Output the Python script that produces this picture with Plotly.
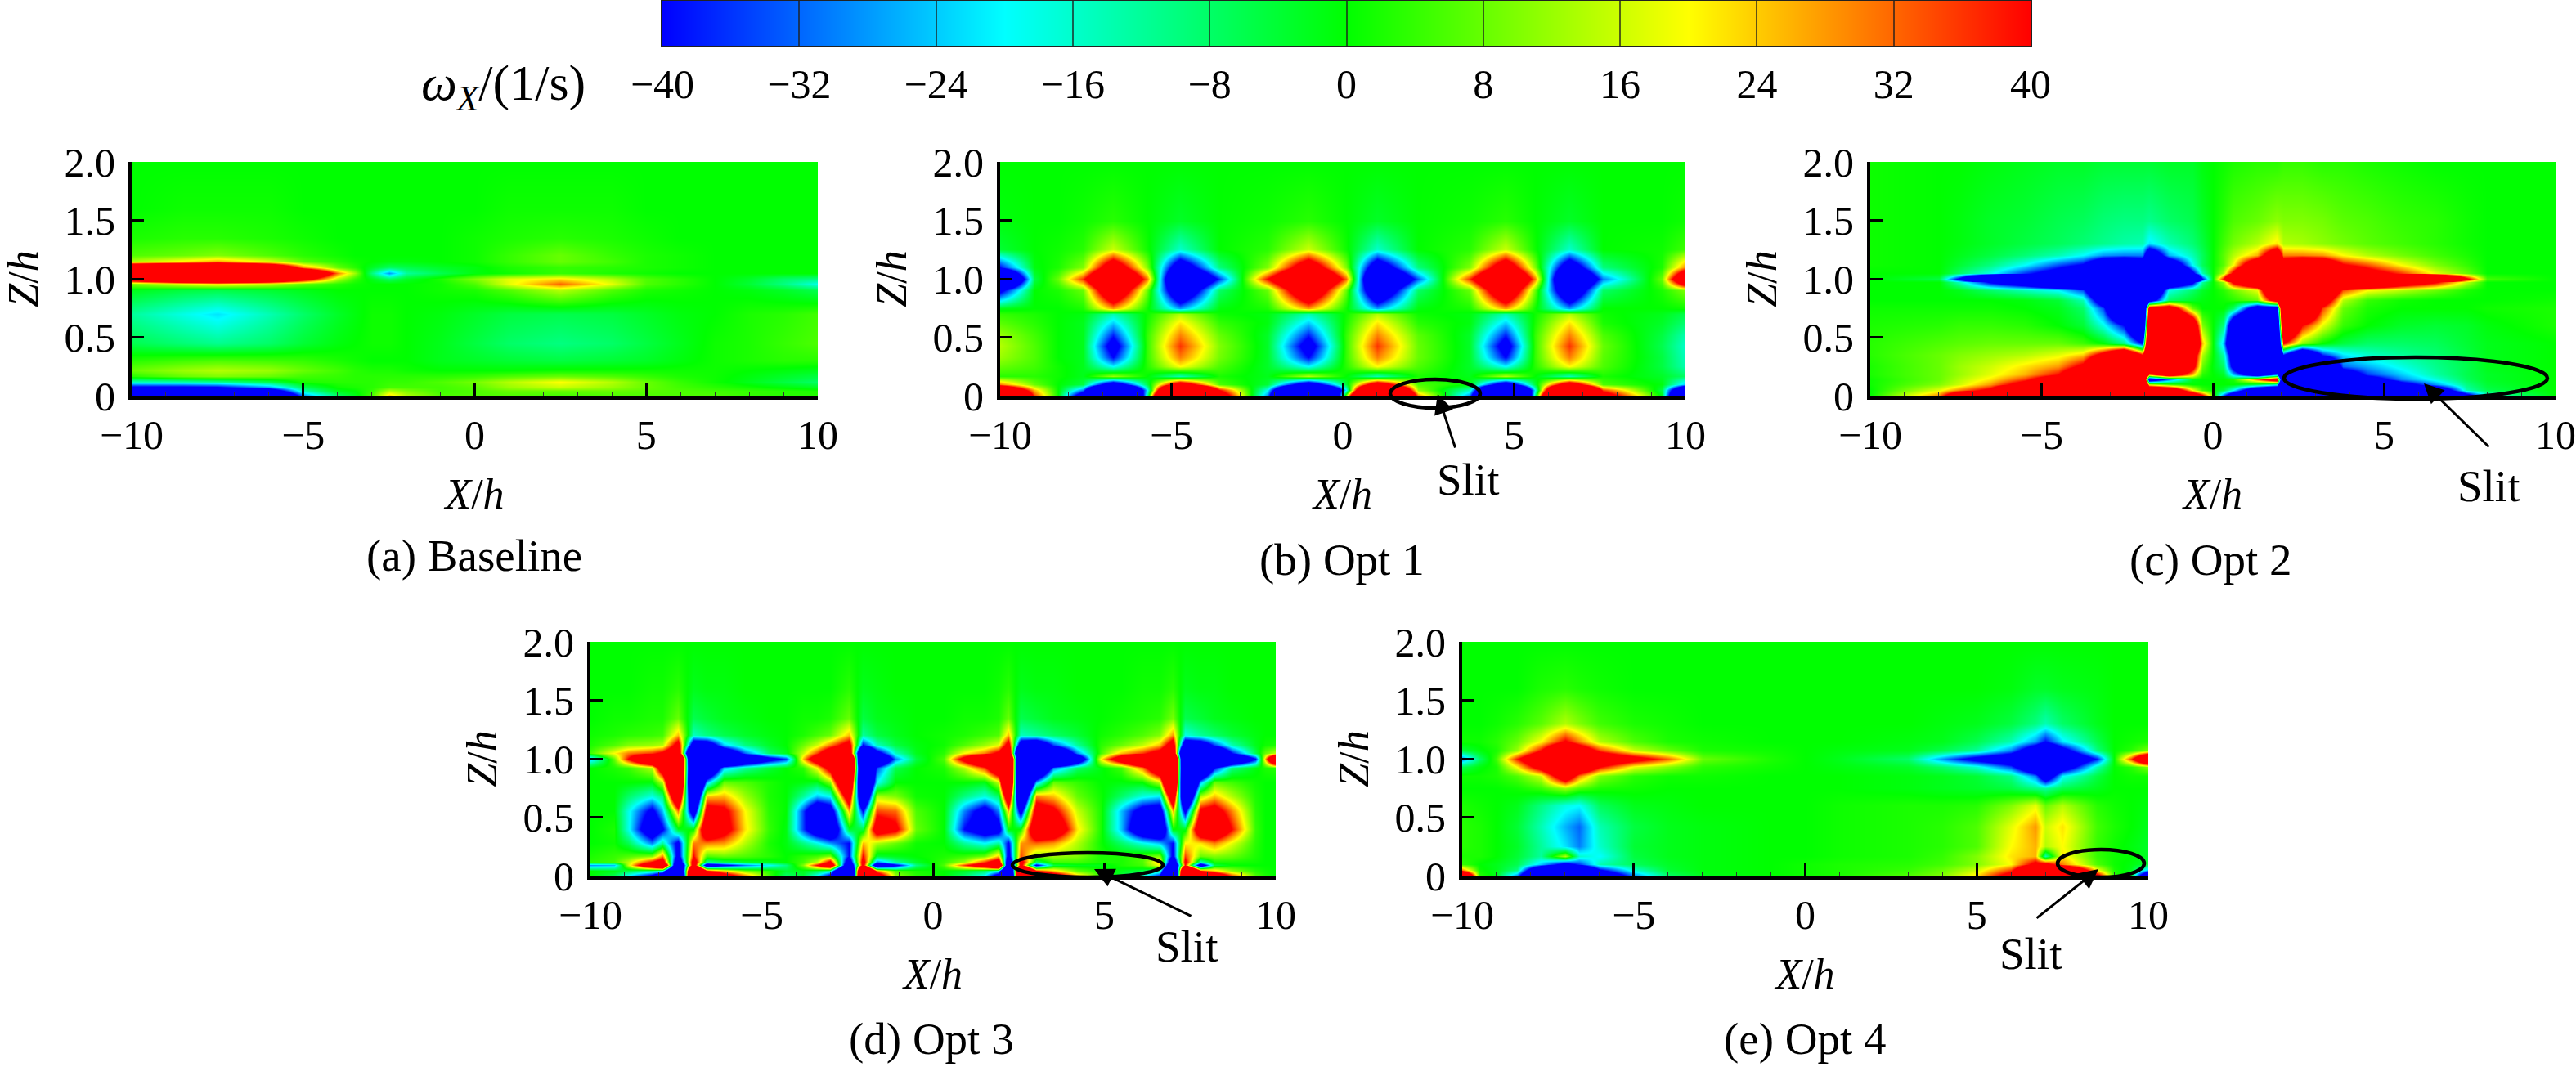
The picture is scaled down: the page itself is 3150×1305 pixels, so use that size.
"""Spanwise vorticity contours, baseline and four slit layouts."""
import plotly.graph_objects as go

W, H = 3150, 1305
FONT = "Liberation Serif"
FS = 50

tick_vals = [-40, -32, -24, -16, -8, 0, 8, 16, 24, 32, 40]

# (a) Baseline
x_a = [-10, -8.5, -7.5, -6, -5, -4, -3.5, -3, -2.5, -2, -1, 0, 1, 2.5, 4, 5, 6, 7, 8, 9, 10]
z_a = [0, .04, .08, .12, .17, .22, .3, .45, .7, .9, .96, 1.0, 1.05, 1.1, 1.15, 1.2, 1.35, 1.6, 2.0]
w_a = [
    [-120, -120, -120, -100, -30, -8, -2, 6, 24, 14, 6, 6, 6, 5, 6, 6, 6, 6, 4, 3, 3],
    [-120, -120, -100, -60, -14, -2, 0, 4, 14, 10, 5, 6, 8, 8, 8, 7, 6, 5, 4, 3, 2],
    [-42, -42, -40, -26, -6, 1, 2, 3, 5, 5, 5, 7, 12, 16, 12, 8, 5, 3, 1, -1, -3],
    [-15, -14, -12, -6, 2, 3, 3, 3, 4, 4, 6, 9, 14, 20, 14, 8, 4, 1, -2, -5, -8],
    [3, 8, 10, 8, 5, 4, 3, 3, 3, 3, 3, 4, 6, 8, 6, 4, 2, 1, -1, -3, -5],
    [8, 12, 14, 12, 8, 5, 3, 2, 2, 1, 0, 0, 0, 1, 1, 1, 1, 1, 0, -1, -2],
    [3, 5, 6, 5, 4, 2, 1, 0, 0, 0, -2, -3, -4, -5, -4, -3, -1, 1, 2, 3, 3],
    [-6, -9, -11, -8, -4, -1, 0, 1, 1, 0, -2, -5, -8, -10, -8, -5, -2, 1, 2, 4, 6],
    [-12, -18, -22, -14, -8, -3, -1, 1, 1, 0, -1, -3, -5, -6, -5, -3, -1, 0, 2, 3, 5],
    [-2, -5, -6, -4, -2, 0, 0, 0, 0, 0, 1, 2, 6, 14, 6, 2, 1, 0, -1, -3, -6],
    [10, 18, 22, 16, 8, 3, 1, 0, 0, 0, 1, 6, 18, 32, 18, 6, 3, 0, -4, -10, -18],
    [60, 90, 100, 80, 50, 14, 4, -2, -8, -3, 2, 10, 18, 22, 14, 6, 3, 0, -3, -8, -10],
    [150, 150, 150, 140, 90, 30, 12, -10, -28, -12, -6, -1, 1, 4, 2, 1, 0, 0, 0, 0, 0],
    [90, 100, 110, 80, 30, 8, 3, -3, -8, -6, -3, -1, 2, 4, 3, 2, 1, 0, 0, 0, 0],
    [14, 22, 28, 18, 7, 3, 1, 0, -1, -1, 0, 1, 4, 8, 5, 2, 1, 0, 0, 0, 0],
    [6, 8, 10, 6, 3, 1, 0, 0, 0, 0, 0, 1, 4, 8, 4, 2, 1, 0, 0, 0, 0],
    [2, 3, 3, 2, 1, 0, 0, 0, 0, 0, 0, 1, 2, 3, 2, 1, 0, 0, 0, 0, 0],
    [0, 1, 1, 1, 0, 0, 0, 0, 0, 0, 0, 0, 1, 1, 1, 0, 0, 0, 0, 0, 0],
    [0, 0, 0, 0, 0, 0, 0, 0, 0, 0, 0, 0, 0, 0, 0, 0, 0, 0, 0, 0, 0],
]

# (b) Opt 1
x_b = [-10, -9, -8.3, -7.6, -6.7, -5.7, -4.75, -3.6, -2.2, -1.0, 0.1, 1.0, 2.2, 3.7, 4.75, 5.6, 6.6, 7.6, 9.3, 10]
z_b = [0, .05, .1, .17, .25, .33, .43, .52, .62, .7, .75, .9, 1.0, 1.1, 1.25, 1.5, 2.0]
w_b = [
    [160, 35, 0, -60, -250, -10, 250, 60, -30, -250, 10, 250, 30, -30, -250, -10, 250, 55, -2, -130],
    [90, 25, 0, -30, -170, -20, 170, 40, -20, -170, -20, 170, 12, -15, -170, -20, 170, 35, -5, -90],
    [30, 8, 0, -5, -60, -5, 60, 6, -4, -60, -4, 60, 6, 0, -60, -4, 60, 6, -1, -25],
    [3, 3, 1, -2, 12, 0, -14, 2, -2, 14, 0, -14, 2, -2, 14, 0, -14, 2, -3, -8],
    [8, 5, 1, -2, -20, 3, 20, 6, -3, -20, 3, 20, 6, -3, -20, 3, 20, 6, -5, -14],
    [12, 6, 0, -2, -40, 4, 30, 9, -3, -40, 4, 30, 8, -3, -40, 4, 30, 7, -5, -15],
    [14, 6, 0, -2, -50, 4, 36, 10, -3, -50, 4, 36, 8, -3, -50, 4, 36, 8, -6, -16],
    [12, 5, 0, -2, -38, 4, 30, 8, -3, -38, 4, 30, 7, -3, -38, 4, 30, 6, -5, -14],
    [7, 3, 0, -2, -24, 2, 22, 4, -1, -24, 2, 22, 3, -1, -24, 2, 22, 2, -3, -9],
    [4, 2, 0, -1, -14, 1, 14, 1, -1, -14, 1, 14, 1, -1, -14, 1, 14, 1, -2, -6],
    [-2, 0, 0, 2, 28, 1, -28, -1, 2, 28, 1, -28, -1, 2, 28, 1, -28, 0, 0, 1],
    [-45, 0, 2, 8, 70, 8, -70, -8, 8, 70, 8, -70, -8, 8, 70, 8, -70, -8, 2, 10],
    [-120, -5, 8, 36, 100, 30, -100, -36, 40, 100, 32, -100, -33, 36, 100, 30, -100, -30, 8, 80],
    [-40, -1, 2, 10, 60, 10, -60, -10, 10, 60, 10, -60, -10, 10, 60, 10, -60, -10, 2, 30],
    [-4, 0, 1, 3, 16, 1, -16, 0, 3, 16, 1, -16, 0, 3, 16, 1, -16, 0, 1, 5],
    [-1, 0, 0, 1, 3, 0, -3, 0, 1, 3, 0, -3, 0, 1, 3, 0, -3, 0, 0, 1],
    [0, 0, 0, 0, 0, 0, 0, 0, 0, 0, 0, 0, 0, 0, 0, 0, 0, 0, 0, 0],
]

# (c) Opt 2
x_c = [-10, -8, -7.4, -6.5, -5.5, -4.5, -3.8, -3.2, -2.6, -2.05, -1.85, -1.3, -0.6, -0.3, 0,
       0.3, 0.6, 1.3, 1.85, 2.05, 2.6, 3.2, 3.8, 4.5, 5.5, 6.5, 7.4, 8, 10]
z_c = [0, .05, .1, .14, .18, .25, .35, .45, .6, .75, .82, .9, .97, 1.0, 1.05, 1.12, 1.2, 1.3, 1.5, 2.0]
w_c = [
    [0, 30, 70, 110, 120, 120, 120, 120, 120, 120, 120, 100, 70, 45, 8, -35, -70, -100, -120, -120, -120, -120, -120, -120, -120, -110, -55, -16, 0],
    [0, 18, 30, 45, 110, 120, 120, 120, 120, 120, 90, 70, 20, 5, 0, -5, -20, -70, -90, -120, -120, -120, -120, -120, -110, -70, -14, -6, 0],
    [1, 10, 16, 28, 50, 100, 120, 120, 120, 120, 15, 5, 0, 0, 0, 0, 0, -5, -15, -120, -120, -120, -120, -110, -50, -28, -10, -4, 0],
    [1, 8, 14, 22, 36, 60, 110, 120, 120, 120, -60, -30, -2, 0, 0, 0, 2, 30, 60, -120, -120, -120, -110, -55, -30, -18, -7, -3, 0],
    [2, 8, 12, 18, 26, 40, 70, 120, 120, 120, 30, 60, 25, 3, 0, -3, -25, -60, -30, -120, -120, -120, -60, -36, -24, -13, -6, -3, 0],
    [2, 8, 12, 16, 22, 28, 45, 100, 120, 120, 120, 120, 50, 8, -1, -8, -50, -120, -120, -120, -120, -110, -32, -26, -18, -11, -6, -2, 0],
    [3, 8, 10, 12, 14, 18, 24, 50, 90, 40, 120, 120, 60, 14, 0, -14, -60, -120, -120, -40, -90, -38, -22, -16, -12, -9, -5, -2, 0],
    [3, 6, 7, 8, 8, 8, 5, 0, -10, -40, 120, 120, 90, 25, 0, -25, -90, -120, -120, 40, 10, 0, -5, -8, -8, -7, -4, -2, 0],
    [2, 3, 4, 4, 3, 0, -4, -18, -40, -100, 100, 120, 70, 10, 0, -10, -70, -120, -100, 100, 40, 18, 4, 0, -3, -4, -3, -1, 2],
    [1, 1, 1, 1, 0, -2, -8, -35, -100, -120, 60, 60, 8, 0, 0, 0, -8, -60, -60, 120, 100, 35, 8, 2, 0, 0, 0, 1, 2],
    [0, 0, 0, 0, -1, -4, -14, -60, -130, -150, -55, -8, -3, -1, 0, 1, 3, 8, 55, 150, 130, 60, 14, 4, 1, 0, 0, 0, 1],
    [0, 0, -2, -8, -14, -20, -34, -90, -150, -150, -100, -18, -8, -3, 0, 3, 8, 18, 100, 150, 150, 90, 34, 20, 14, 8, 2, 0, 0],
    [0, 0, -15, -42, -60, -90, -120, -150, -150, -150, -150, -80, -45, -12, 0, 12, 45, 80, 150, 150, 150, 150, 120, 90, 60, 42, 15, 0, 0],
    [0, -5, -45, -130, -150, -150, -150, -150, -150, -150, -150, -150, -120, -40, 0, 40, 120, 150, 150, 150, 150, 150, 150, 150, 150, 130, 45, 5, 0],
    [0, 0, -8, -18, -36, -50, -70, -120, -120, -120, -120, -120, -45, -14, 0, 14, 45, 120, 120, 120, 120, 120, 70, 50, 36, 18, 8, 0, 0],
    [1, 0, -4, -10, -20, -34, -42, -70, -80, -60, -120, -70, -20, -7, 0, 7, 20, 70, 120, 60, 80, 70, 42, 34, 20, 10, 4, 0, 0],
    [1, 0, -2, -5, -9, -14, -20, -28, -30, -30, -70, -26, -14, -7, 0, 7, 14, 26, 70, 30, 30, 28, 20, 14, 9, 5, 2, 0, 0],
    [1, 0, -1, -3, -5, -7, -9, -11, -13, -14, -22, -14, -9, -5, 0, 5, 9, 14, 22, 14, 13, 11, 9, 7, 5, 3, 1, 0, 0],
    [1, 0, -1, -3, -4, -6, -7, -9, -10, -10, -11, -8, -6, -3, 0, 3, 6, 8, 11, 10, 10, 9, 7, 6, 4, 3, 1, 0, 0],
    [1, 0, 0, -1, -2, -3, -3, -4, -4, -4, -4, -3, -3, -1, 0, 1, 2, 3, 3, 4, 4, 3, 3, 2, 1, 0, 0, 0, 0],
]

# (d) Opt 3
x_d = [-10, -9.3, -8.9, -8.2, -7.9, -7.45, -7.0, -6.6, -6.1, -5.5, -4.8, -4.3,
       -3.8, -3.4, -3.0, -2.45, -2.05, -1.65, -1.1, -0.5,
       0.3, 0.9, 1.5, 1.9, 2.2, 2.55, 3.0, 3.5, 4.2, 4.9,
       5.5, 6.1, 6.6, 7.0, 7.35, 7.8, 8.2, 8.7, 9.4, 9.7, 10]
z_d = [0, .04, .09, .12, .17, .28, .4, .55, .68, .8, .92, 1.0, 1.05, 1.12, 1.2, 1.35, 1.6, 2.0]
w_d = [
    [0, -6, -20, -45, -70, -200, 200, 90, 55, 30, 5, -8,
     -4, -20, -45, -200, 200, 60, 12, 3,
     0, -8, -20, -55, -200, 200, 100, 60, 25, 3,
     -4, -15, -40, -200, 200, 110, 70, 35, 6, 2, 0],
    [0, -2, -6, -12, -20, -150, 150, 40, 25, 10, 3, -4,
     -2, -6, -14, -150, 150, 30, 6, 2,
     0, -3, -8, -20, -150, 150, 40, 25, 8, 2,
     -2, -5, -12, -150, 150, 40, 25, 12, 3, 1, 0],
    [-28, -25, 15, 70, 100, -100, 60, -60, -45, -30, -20, -10,
     10, 40, 70, -80, 50, -70, -45, -10,
     6, 35, 60, 100, -90, 50, -45, -5, -2, -2,
     2, 5, 20, -90, 40, -60, -5, 0, 0, 0, 0],
    [3, 5, 14, 40, 55, -70, 55, -12, -6, -3, -2, 0,
     5, 15, 45, -60, 50, -30, -12, -3,
     4, 12, 35, 55, -70, 50, -8, 5, 5, 2,
     2, 6, 25, -70, 45, -15, 2, 2, 1, 0, 0],
    [2, 4, 6, 10, 30, -50, 40, 6, 8, 6, 3, 0,
     3, 5, 10, -40, 40, -4, -2, 0,
     2, 4, 8, 25, -50, 35, 10, 12, 10, 2,
     2, 6, 10, -45, 35, 8, 10, 8, 2, 0, 0],
    [0, 1, -6, -30, -12, -45, 30, 30, 28, 14, 2, -1,
     -10, -18, -28, -40, 25, 14, 8, 1,
     0, -12, -20, -12, -42, 28, 32, 28, 14, 1,
     -8, -18, -25, -40, 20, 22, 30, 18, 3, 0, 0],
    [0, 2, -18, -60, -42, -2, 0, 70, 50, 22, 4, -1,
     -35, -60, -70, -3, -5, 55, 45, 8,
     0, -40, -55, -50, 0, 0, 70, 65, 22, 2,
     -25, -65, -75, 0, -2, 65, 70, 40, 4, 0, 0],
    [0, 0, -18, -45, -25, 30, -60, 50, 45, 20, 3, 0,
     -35, -65, -55, 25, -40, 35, 32, 6,
     0, -30, -50, -30, 25, -50, 55, 45, 16, 2,
     -25, -50, -55, 25, -45, 45, 50, 30, 3, 0, 0],
    [0, 0, -8, -18, -10, 80, -100, 25, 26, 12, 2, 0,
     -12, -25, -20, 60, -90, 14, 10, 1,
     0, -10, -18, -8, 70, -100, 30, 25, 8, 1,
     -8, -18, -22, 70, -100, 14, 25, 14, 2, 0, 0],
    [0, 0, 0, -1, 14, 130, -140, -25, 8, 6, 2, 0,
     -1, -3, 10, 100, -120, -20, 0, 0,
     0, 0, -2, 15, 130, -140, -25, 8, 4, 0,
     -1, 0, 14, 130, -140, -25, 8, 5, 1, 0, 0],
    [0, 2, 4, 14, 60, 140, -140, -90, -25, -12, -4, 0,
     3, 20, 50, 140, -130, -35, -6, 0,
     2, 14, 35, 70, 140, -140, -100, -30, -8, -1,
     5, 30, 70, 140, -140, -100, -40, -10, -1, 2, 3],
    [-25, 8, 40, 90, 120, 150, -150, -150, -120, -80, -50, -35,
     25, 60, 100, 150, -150, -90, -30, -5,
     6, 50, 90, 120, 150, -150, -150, -130, -70, 20,
     60, 100, 130, 150, -150, -150, -130, -90, -40, 25, 100],
    [5, 20, 30, 36, 44, 70, -140, -130, -70, -32, -8, -2,
     15, 35, 60, 70, -110, -50, -15, -2,
     3, 20, 30, 45, 80, -140, -130, -90, -30, 5,
     25, 36, 50, 80, -140, -130, -90, -40, -6, 8, 15],
    [2, 6, 10, 12, 14, 50, -60, -60, -24, -10, -3, 0,
     8, 16, 30, 50, -40, -15, -5, -1,
     1, 6, 12, 18, 50, -60, -70, -35, -12, 3,
     8, 15, 25, 55, -65, -60, -35, -14, -2, 1, 2],
    [1, 2, 3, 4, 5, 25, -15, -10, -6, -3, -1, 0,
     2, 5, 8, 25, -12, -5, -2, 0,
     1, 2, 4, 6, 25, -15, -12, -8, -4, 1,
     3, 6, 10, 28, -18, -12, -8, -4, -1, 0, 0],
    [0, 1, 1, 2, 2, 8, -6, -4, -2, -1, 0, 0,
     1, 1, 2, 8, -5, -2, -1, 0,
     0, 1, 1, 2, 8, -6, -4, -2, -1, 0,
     1, 2, 3, 9, -6, -4, -2, -1, 0, 0, 0],
    [0, 0, 0, 1, 1, 3, -2, -1, -1, 0, 0, 0,
     0, 0, 0, 3, -2, -1, 0, 0,
     0, 0, 0, 1, 3, -2, -1, -1, 0, 0,
     0, 1, 1, 3, -2, -1, -1, 0, 0, 0, 0],
    [0, 0, 0, 0, 0, 0, 0, 0, 0, 0, 0, 0,
     0, 0, 0, 0, 0, 0, 0, 0,
     0, 0, 0, 0, 0, 0, 0, 0, 0, 0,
     0, 0, 0, 0, 0, 0, 0, 0, 0, 0, 0],
]

# (e) Opt 4
x_e = [-10, -9.5, -9, -8.4, -7.7, -7, -6.6, -6, -5, -4, -3, -1, 0, 1, 3, 4, 5, 6, 6.7, 7, 7.5, 8.5, 9, 9.5, 10]
z_e = [0, .05, .1, .17, .25, .42, .6, .75, .85, .93, 1.0, 1.07, 1.15, 1.3, 1.6, 2.0]
w_e = [
    [100, 3, -2, -30, -120, -120, -120, -70, -30, -8, -2, 0, 1, 2, 6, 10, 22, 50, 110, 120, 120, 50, 3, -3, -80],
    [30, 1, -2, -10, -80, -120, -90, -42, -16, -4, -1, 0, 1, 2, 4, 8, 16, 35, 90, 110, 90, 20, 2, -2, -25],
    [4, 0, -2, -6, -24, -48, -36, -14, -7, -3, -1, 0, 1, 2, 3, 5, 10, 20, 46, 48, 30, 6, 1, -1, -4],
    [2, 2, 0, -4, -12, 14, -16, -20, -5, -2, -1, 0, 0, 1, 2, 4, 10, 22, 26, -14, 22, 4, 1, 0, -3],
    [3, 2, 0, -3, -12, -22, -30, -16, -4, -2, -1, 0, 0, 1, 2, 3, 6, 20, 26, 14, 20, 4, 1, -1, -3],
    [3, 2, 0, -4, -14, -26, -32, -14, -5, -2, -1, 0, 0, 1, 2, 3, 6, 18, 28, 16, 22, 5, 2, 0, -2],
    [2, 1, 0, -2, -10, -18, -20, -7, -2, -1, 0, 0, 0, 1, 2, 2, 3, 10, 18, 8, 14, 3, 1, 0, -1],
    [0, 0, 0, 1, 4, 12, 6, 2, 1, 0, 0, 0, 0, 0, -1, -2, -3, -5, -10, -12, -6, -2, 0, 0, 0],
    [1, 1, 2, 6, 16, 60, 30, 10, 3, 1, 1, 0, 0, 0, -1, -2, -4, -10, -30, -60, -20, -5, 0, 1, 1],
    [-6, -1, 2, 20, 50, 90, 70, 40, 18, 10, 3, 1, 0, -1, -3, -8, -16, -34, -70, -90, -55, -14, 0, 3, 10],
    [-30, -8, 5, 38, 70, 110, 90, 65, 50, 32, 8, 2, 0, -2, -8, -28, -48, -60, -90, -110, -75, -38, 0, 35, 90],
    [-5, -1, 2, 12, 40, 80, 60, 36, 16, 8, 2, 1, 0, -1, -2, -6, -12, -30, -60, -80, -50, -10, 0, 3, 10],
    [1, 1, 3, 8, 20, 42, 30, 14, 6, 2, 1, 0, 0, 0, -1, -2, -6, -14, -28, -40, -22, -6, 0, 1, 2],
    [0, 0, 1, 3, 7, 14, 10, 5, 2, 1, 0, 0, 0, 0, 0, -1, -2, -5, -10, -14, -8, -2, 0, 0, 0],
    [0, 0, 0, 0, 2, 3, 2, 1, 0, 0, 0, 0, 0, 0, 0, 0, 0, -1, -3, -3, -2, -1, 0, 0, 0],
    [0, 0, 0, 0, 0, 0, 0, 0, 0, 0, 0, 0, 0, 0, 0, 0, 0, 0, 0, 0, 0, 0, 0, 0, 0],
]

for xs, zs, ws in [(x_a, z_a, w_a), (x_b, z_b, w_b), (x_c, z_c, w_c), (x_d, z_d, w_d), (x_e, z_e, w_e)]:
    assert len(ws) == len(zs) and all(len(r) == len(xs) for r in ws)


def px(x):
    return x / W


def py(y):
    return 1 - y / H


# panel boxes in page pixels: left, right, top, bottom
panels = [
    (x_a, z_a, w_a, (161, 1000, 198, 484)),
    (x_b, z_b, w_b, (1223, 2061, 198, 484)),
    (x_c, z_c, w_c, (2287, 3125, 198, 484)),
    (x_d, z_d, w_d, (722, 1560, 785, 1071)),
    (x_e, z_e, w_e, (1788, 2627, 785, 1071)),
]

fig = go.Figure()
for i, (xs, zs, ws, box) in enumerate(panels, start=1):
    suffix = "" if i == 1 else str(i)
    fig.add_trace(go.Heatmap(
        x=xs, y=zs, z=ws, zsmooth="best", coloraxis="coloraxis",
        xaxis=f"x{suffix}", yaxis=f"y{suffix}",
    ))
    fig.update_layout({
        f"xaxis{suffix}": dict(
            domain=[px(box[0]), px(box[1])], anchor=f"y{suffix}", range=[-10, 10], automargin=False,
            tickvals=[-10, -5, 0, 5, 10], ticks="inside", ticklen=15, tickwidth=3, tickcolor="black",
            ticklabelstandoff=0, showline=True, linewidth=5, linecolor="black", showgrid=False, zeroline=False,
            minor=dict(dtick=1, ticks="inside", ticklen=5, tickwidth=1, tickcolor="#333"),
            tickfont=dict(family=FONT, size=FS, color="black"),
            title=dict(text="<i>X</i>/<i>h</i>", standoff=28, font=dict(family=FONT, size=FS + 2, color="black")),
        ),
        f"yaxis{suffix}": dict(
            domain=[py(box[3]), py(box[2])], anchor=f"x{suffix}", range=[0, 2], automargin=False,
            tickvals=[0, 0.5, 1, 1.5, 2], ticktext=["0", "0.5", "1.0", "1.5", "2.0"],
            ticks="inside", ticklen=15, tickwidth=3, tickcolor="black",
            ticklabelstandoff=6, showline=True, linewidth=4, linecolor="black", showgrid=False, zeroline=False,
            tickfont=dict(family=FONT, size=FS, color="black"),
            title=dict(text="<i>Z</i>/<i>h</i>", standoff=16, font=dict(family=FONT, size=FS + 2, color="black")),
        ),
    })

# colour key, drawn as its own strip so the tick lines can run through it
BAR_L, BAR_R, BAR_T, BAR_B = 810, 2483, 1, 56
fig.add_trace(go.Heatmap(
    x=tick_vals, y=[0, 1], z=[tick_vals, tick_vals], zsmooth="best", coloraxis="coloraxis",
    xaxis="x6", yaxis="y6",
))
fig.update_layout(
    xaxis6=dict(
        domain=[px(BAR_L), px(BAR_R)], anchor="y6", range=[-40, 40], tickvals=tick_vals, automargin=False,
        ticks="inside", ticklen=BAR_B - BAR_T, tickwidth=2, tickcolor="rgba(30,30,30,0.7)",
        ticklabelstandoff=2, showline=True, mirror=True, linewidth=2, linecolor="#222", showgrid=False, zeroline=False,
        tickfont=dict(family=FONT, size=FS, color="black"),
    ),
    yaxis6=dict(
        domain=[py(BAR_B), py(BAR_T)], anchor="x6", range=[0, 1], showticklabels=False, ticks="", automargin=False,
        showline=True, mirror=True, linewidth=2, linecolor="#222", showgrid=False, zeroline=False,
    ),
)

shapes = []
# slit ellipses: left, right, top, bottom in page pixels
ellipses = [(1700, 1810, 464, 499), (2793, 3115, 437, 488), (1238, 1422, 1043, 1073), (2516, 2622, 1039, 1073)]
for l, r, t, b in ellipses:
    shapes.append(dict(type="circle", xref="paper", yref="paper", x0=px(l), x1=px(r), y0=py(b), y1=py(t),
                       line=dict(color="black", width=4.5)))

annotations = []


def text(x, y, s, size=FS + 5):
    annotations.append(dict(x=px(x), y=py(y), xref="paper", yref="paper", text=s, showarrow=False,
                            xanchor="center", yanchor="middle", font=dict(family=FONT, size=size, color="black")))


text(615, 105, "<i>ω</i><sub><i>X</i></sub>/(1/s)", size=62)
for cx, cy, s in [(580, 680, "(a) Baseline"), (1641, 684, "(b) Opt 1"), (2703, 684, "(c) Opt 2"),
                  (1139, 1270, "(d) Opt 3"), (2207, 1270, "(e) Opt 4")]:
    text(cx, cy, s)
for cx, cy in [(1795, 586), (3043, 594), (1451, 1157), (2483, 1166)]:
    text(cx, cy, "Slit")

# arrows: tip x, tip y, tail x, tail y
for tx, ty, ax, ay in [(1758, 482, 1780, 549), (2964, 469, 3045, 548), (1338, 1063, 1458, 1121), (2566, 1063, 2489, 1124)]:
    annotations.append(dict(x=px(tx), y=py(ty), xref="paper", yref="paper", axref="pixel", ayref="pixel",
                            ax=ax - tx, ay=ay - ty, text="", showarrow=True, arrowhead=2, arrowsize=1.6,
                            arrowwidth=3, arrowcolor="black"))

fig.update_layout(
    width=W, height=H, margin=dict(l=0, r=0, t=0, b=0), paper_bgcolor="white", plot_bgcolor="white",
    font=dict(family=FONT, color="black"), showlegend=False, shapes=shapes, annotations=annotations,
    coloraxis=dict(
        cmin=-40, cmax=40, showscale=False,
        colorscale=[[0, "#0000ff"], [0.25, "#00ffff"], [0.5, "#00ff00"], [0.75, "#ffff00"], [1, "#ff0000"]],
    ),
)

# the page's default body margin would push the figure 8px off
fig.write_html("out.html", config={"displayModeBar": False}, post_script="document.body.style.margin='0';")
